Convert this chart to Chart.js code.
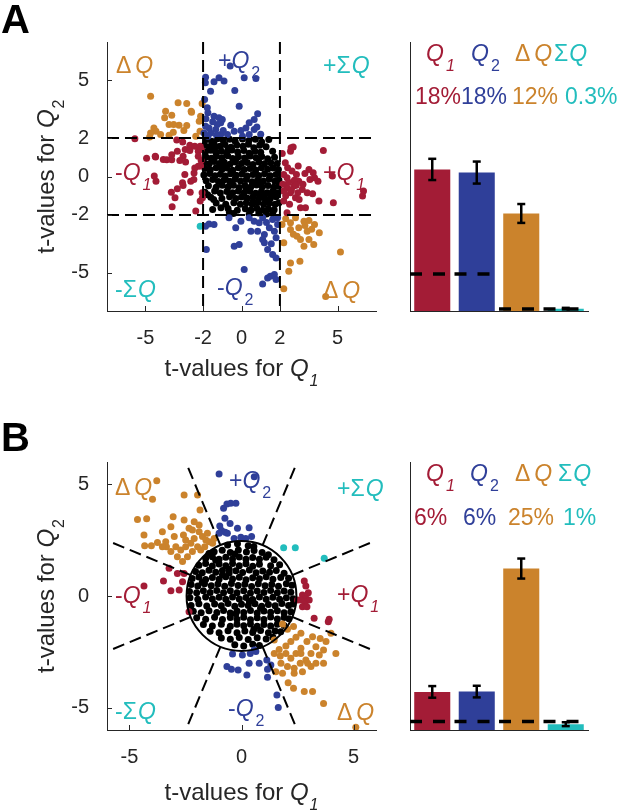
<!DOCTYPE html>
<html>
<head>
<meta charset="utf-8">
<title>t-values for Q1 and Q2</title>
<script src="https://cdn.jsdelivr.net/npm/chart.js@4.4.1/dist/chart.umd.min.js"></script>
<style>
  html, body { margin: 0; padding: 0; background: #fff; }
  #page { position: relative; width: 617px; height: 810px; overflow: hidden; }
  #page canvas { position: absolute; }
</style>
</head>
<body>
<div id="page">
  <canvas id="scatterA" width="400" height="400" style="left:0px;top:0px"></canvas>
  <canvas id="barsA" width="217" height="400" style="left:400px;top:0px"></canvas>
  <canvas id="scatterB" width="400" height="410" style="left:0px;top:400px"></canvas>
  <canvas id="barsB" width="217" height="410" style="left:400px;top:400px"></canvas>
</div>
<script>
//---- data: [t for Q1, t for Q2] ----

// panel A, square criterion |t| > 2
var aNone = [
  [-1.82,1.93],[-1.55,1.84],[-1.25,1.96],[-0.95,1.87],[-0.62,1.94],[-0.33,1.83],[0.05,1.95],[0.38,1.86],[0.72,1.94],[1.05,1.8],[1.42,1.92],
  [-1.93,1.62],[-1.7,1.55],[-1.42,1.68],[-1.12,1.58],[-0.86,1.66],[-0.55,1.52],[-0.24,1.64],[0.08,1.57],[0.36,1.68],[0.64,1.5],[0.95,1.62],[1.28,1.55],
  [-1.88,1.28],[-1.6,1.36],[-1.33,1.24],[-1.05,1.33],[-0.78,1.22],[-0.5,1.38],[-0.2,1.27],[0.12,1.35],[0.4,1.21],[0.7,1.31],[1.0,1.26],[1.62,1.32],
  [-1.85,1.02],[-1.57,0.95],[-1.3,1.06],[-1.02,0.97],[-0.72,1.08],[-0.46,0.94],[-0.16,1.03],[0.16,0.96],[0.46,1.07],[0.76,0.98],[1.05,1.04],[1.36,0.92],[1.72,1.0],
  [-1.95,0.72],[-1.68,0.66],[-1.42,0.78],[-1.15,0.68],[-0.9,0.74],[-0.6,0.64],[-0.32,0.76],[0.0,0.68],[0.3,0.73],[0.6,0.62],[0.9,0.76],[1.2,0.66],[1.52,0.72],[1.86,0.68],
  [-1.9,0.42],[-1.62,0.35],[-1.32,0.46],[-1.02,0.37],[-0.76,0.44],[-0.46,0.33],[-0.16,0.45],[0.14,0.36],[0.44,0.42],[0.74,0.34],[1.04,0.46],[1.36,0.38],[1.64,0.44],[1.92,0.36],
  [-1.96,0.08],[-1.66,0.15],[-1.38,0.04],[-1.1,0.12],[-0.84,0.02],[-0.56,0.14],[-0.28,0.06],[0.02,0.13],[0.3,0.03],[0.6,0.11],[0.9,0.05],[1.2,0.14],[1.5,0.04],[1.8,0.1],
  [-1.84,-0.22],[-1.5,-0.15],[-1.2,-0.26],[-0.9,-0.17],[-0.62,-0.25],[-0.34,-0.14],[-0.05,-0.24],[0.25,-0.16],[0.55,-0.27],[0.84,-0.18],[1.14,-0.23],[1.44,-0.13],[1.74,-0.25],[1.95,-0.18],
  [-1.72,-0.48],[-1.32,-0.56],[-1.0,-0.45],[-0.7,-0.54],[-0.42,-0.46],[-0.12,-0.57],[0.18,-0.47],[0.48,-0.55],[0.78,-0.44],[1.08,-0.53],[1.38,-0.47],[1.68,-0.56],[1.94,-0.5],
  [-1.9,-0.82],[-1.4,-0.76],[-1.1,-0.86],[-0.76,-0.78],[-0.46,-0.85],[-0.16,-0.75],[0.14,-0.84],[0.44,-0.77],[0.74,-0.87],[1.04,-0.78],[1.34,-0.84],[1.64,-0.76],[1.9,-0.85],
  [-1.6,-1.08],[-1.02,-1.14],[-0.62,-1.06],[-0.3,-1.15],[0.0,-1.07],[0.3,-1.13],[0.6,-1.05],[0.9,-1.16],[1.2,-1.08],[1.5,-1.14],[1.8,-1.06],
  [-1.32,-1.38],[-0.82,-1.44],[-0.4,-1.36],[-0.06,-1.45],[0.25,-1.37],[0.55,-1.43],[0.85,-1.35],[1.15,-1.45],[1.45,-1.38],[1.75,-1.44],[1.95,-1.36],
  [-1.5,-1.72],[-0.7,-1.66],[-0.22,-1.75],[0.2,-1.68],[0.5,-1.74],[0.8,-1.65],[1.1,-1.76],[1.4,-1.68],[1.7,-1.73],
  [-0.42,-1.93],[0.4,-1.96],[0.9,-1.9],[1.3,-1.95],[1.62,-1.92],
  [-1.4,1.45],[-0.7,1.4],[-1.0,0.55],[-0.3,0.9],[0.25,-0.65],[0.95,-0.95],[1.25,-1.25],[0.6,-1.3],[-0.55,0.25],[0.65,-0.35],[1.55,-0.9],[1.0,-0.35],
  [-1.07,-1.63],[-0.63,-1.88],[-1.76,-0.95],[-1.45,-1.2]
];
var aQ1 = [
  [-5.55,1.96],[-4.94,0.95],[-4.47,1.02],[-4.07,0.88],[-3.89,0.87],[-3.63,0.87],[-3.63,1.13],[-3.34,1.32],[-3.37,1.9],[-3.06,1.8],
  [-2.93,1.41],[-2.69,1.63],[-2.69,1.35],[-2.43,1.58],[-2.25,1.32],[-2.15,1.58],[-2.1,1.41],[-2.25,1.05],[-2.1,0.83],[-2.25,0.53],
  [-2.43,0.44],[-2.47,0.18],[-4.54,0.02],[-4.45,-0.25],[-2.95,0.1],[-2.64,-0.25],[-3.07,-0.33],[-3.34,-0.64],[-3.65,-0.82],[-3.46,-1.11],
  [-2.67,-0.82],[-3.61,-1.58],[-2.38,-1.8],[-2.03,-1.11],[-2.05,-0.85],[-2.15,-1.28],[-4.49,1.06],[-3.04,1.06],[-3.21,0.83],[-2.91,0.75],
  [-2.48,-0.16],[-2.13,0.54],[-3.04,-0.47],
  [2.69,1.53],[2.55,1.32],[4.26,1.35],[2.28,0.71],[2.63,0.28],[2.86,0.1],[3.51,0.36],[3.73,0.19],[3.98,-0.25],[3.56,-0.16],
  [2.98,-0.25],[3.16,-0.68],[3.42,-0.85],[4.03,-1.28],[4.78,-1.37],[6.3,-1.02],[6.35,-0.76],[4.73,0.02],[2.37,-0.59],[2.55,-0.85],
  [2.81,-1.11],[3.07,-1.63],[2.37,-1.89],[2.2,-1.28],[2.72,-0.5],[2.93,-0.85],[2.37,-0.06],[2.2,0.1],[3.33,-1.63],[3.8,-0.06],
  [2.58,1.49],[2.45,-0.3],[2.6,-0.7],[2.75,-0.2],[2.3,-1.0],[2.5,-1.45],[3.0,-1.2],[2.85,-0.45],[2.15,-0.4],[2.2,-0.75],
  [3.2,-0.4],[2.95,0.55],[3.7,-0.9],[3.3,0.15],[2.4,0.45],[2.12,1.2]
];
var aQ2 = [
  [-1.87,5.17],[-1.88,4.88],[-1.43,4.93],[-1.17,5.14],[-0.91,4.97],[-0.59,5.75],[0.14,5.14],[0.75,5.1],[-0.35,4.48],[-1.61,4.44],
  [-0.12,3.66],[-1.78,3.58],[-1.75,3.32],[-1.43,3.14],[-1.17,3.06],[-1.0,2.97],[0.84,3.26],[0.66,2.97],[0.4,2.8],[0.23,2.53],
  [0.66,2.45],[0.8,2.57],[-0.03,2.4],[-0.38,2.36],[-0.73,2.19],[-1.08,2.19],[-1.34,2.45],[-1.69,2.53],[-1.87,2.62],[-1.61,2.27],
  [-1.95,2.27],[-1.08,2.8],[-1.26,2.71],[-0.56,2.67],[0.4,2.19],[0.05,2.1],[-1.92,4.01],[-1.5,2.85],[-1.85,3.0],[-0.95,2.4],
  [1.0,2.2],[-1.3,2.15],[-1.75,2.1],
  [-1.87,-2.59],[-1.69,-2.47],[-1.43,-2.5],[-1.83,-3.8],[-0.65,-2.15],[-0.3,-2.67],[-0.38,-3.63],[-0.12,-3.54],[0.14,-4.84],[0.66,-2.33],
  [0.92,-2.41],[1.1,-2.15],[0.84,-2.85],[1.19,-3.02],[1.1,-3.28],[1.19,-3.45],[1.36,-3.8],[1.62,-4.06],[1.8,-4.24],[1.45,-2.67],
  [1.71,-2.85],[1.8,-3.19],[1.62,-2.24],[1.88,-2.15],[1.36,-5.28],[1.5,-5.19],[1.71,-5.1],[1.1,-5.59],[1.8,-5.36],[0.4,-2.15],
  [-0.03,-2.33],[1.88,-2.5],[0.49,-2.85],[1.3,-2.4],[1.55,-3.5]
];
var aDQ = [
  [-4.73,4.18],[-3.95,3.4],[-3.63,3.19],[-2.85,3.8],[-2.6,3.35],[-2.05,3.8],[-2.13,3.14],[-2.2,2.88],[-3.77,2.71],[-3.25,2.67],
  [-2.85,2.66],[-4.56,2.53],[-4.45,2.36],[-4.73,2.27],[-4.21,2.18],[-3.77,2.15],[-4.78,2.05],[-2.38,2.1],[-3.3,3.84],[-4.0,3.06],
  [-2.16,2.36],[-3.0,2.4],[-3.53,2.71],[-3.55,2.3],[-2.62,3.39],
  [2.11,-2.5],[2.55,-2.41],[2.81,-2.15],[3.25,-2.33],[3.51,-2.29],[3.8,-2.5],[2.98,-2.67],[2.55,-2.76],[3.42,-2.85],[4.05,-2.93],
  [3.07,-3.28],[3.51,-3.28],[3.76,-3.54],[3.25,-3.63],[2.2,-3.45],[5.15,-3.93],[2.55,-4.5],[3.04,-4.41],[2.46,-4.93],[2.2,-5.84],
  [4.38,-6.24],[2.89,-3.11],[3.3,-2.55],[2.3,-2.2],[3.65,-2.75],[2.7,-3.0]
];
var aSQ = [[-2.15,-2.59]];

// panel B, circular criterion
var bNone = [
  [-0.62,2.28],[-0.18,2.34],[0.3,2.25],[0.55,2.22],
  [-1.22,1.98],[-0.86,2.05],[-0.5,1.95],[-0.14,2.06],[0.22,1.97],[0.56,2.04],[0.92,1.95],[1.2,1.85],
  [-1.6,1.68],[-1.3,1.76],[-1.0,1.64],[-0.7,1.74],[-0.4,1.66],[-0.1,1.75],[0.2,1.64],[0.5,1.72],[0.8,1.65],[1.1,1.74],[1.45,1.62],
  [-1.9,1.38],[-1.6,1.45],[-1.3,1.34],[-1.0,1.43],[-0.7,1.35],[-0.4,1.46],[-0.1,1.36],[0.2,1.44],[0.5,1.33],[0.8,1.42],[1.3,1.36],[1.7,1.4],
  [-2.05,1.1],[-1.75,1.04],[-1.45,1.15],[-1.15,1.06],[-0.85,1.14],[-0.55,1.03],[-0.25,1.13],[0.05,1.05],[0.35,1.16],[0.65,1.04],[0.95,1.12],[1.25,1.06],[1.55,1.14],[1.9,1.02],
  [-2.2,0.78],[-1.9,0.85],[-1.6,0.74],[-1.3,0.83],[-1.0,0.75],[-0.7,0.86],[-0.4,0.76],[-0.1,0.84],[0.2,0.73],[0.5,0.82],[0.8,0.77],[1.1,0.86],[1.4,0.75],[1.75,0.83],[2.1,0.8],
  [-2.25,0.52],[-1.95,0.45],[-1.65,0.55],[-1.35,0.46],[-1.05,0.54],[-0.75,0.44],[-0.45,0.56],[-0.15,0.47],[0.15,0.53],[0.45,0.43],[0.75,0.55],[1.05,0.46],[1.35,0.52],[1.65,0.44],[2.0,0.55],[2.25,0.48],
  [-2.32,0.2],[-2.0,0.15],[-1.7,0.24],[-1.4,0.16],[-1.1,0.25],[-0.8,0.14],[-0.5,0.23],[-0.2,0.15],[0.1,0.24],[0.4,0.13],[0.7,0.22],[1.0,0.16],[1.3,0.25],[1.6,0.14],[1.9,0.22],[2.2,0.17],
  [-2.3,-0.08],[-1.95,-0.14],[-1.6,-0.05],[-1.3,-0.13],[-1.0,-0.06],[-0.7,-0.15],[-0.4,-0.04],[-0.1,-0.13],[0.2,-0.07],[0.5,-0.16],[0.8,-0.05],[1.1,-0.14],[1.4,-0.06],[1.7,-0.15],[2.0,-0.08],[2.3,-0.12],
  [-2.25,-0.42],[-1.9,-0.35],[-1.55,-0.45],[-1.2,-0.36],[-0.9,-0.44],[-0.6,-0.34],[-0.3,-0.46],[0.0,-0.37],[0.3,-0.43],[0.6,-0.35],[0.9,-0.46],[1.2,-0.38],[1.5,-0.44],[1.8,-0.34],[2.1,-0.42],[2.3,-0.36],
  [-2.15,-0.68],[-1.8,-0.75],[-1.45,-0.66],[-1.1,-0.74],[-0.8,-0.65],[-0.5,-0.76],[-0.2,-0.67],[0.1,-0.74],[0.4,-0.65],[0.7,-0.76],[1.0,-0.67],[1.3,-0.73],[1.6,-0.66],[1.9,-0.75],[2.2,-0.7],
  [-2.0,-0.97],[-1.6,-1.04],[-1.2,-0.95],[-0.85,-1.05],[-0.5,-0.96],[-0.2,-1.04],[0.1,-0.95],[0.4,-1.06],[0.7,-0.97],[1.0,-1.05],[1.3,-0.94],[1.6,-1.03],[1.9,-0.96],[2.12,-1.02],
  [-1.7,-1.28],[-1.3,-1.34],[-0.9,-1.26],[-0.5,-1.35],[-0.2,-1.27],[0.1,-1.33],[0.4,-1.25],[0.7,-1.36],[1.0,-1.28],[1.3,-1.34],[1.6,-1.26],[1.9,-1.32],
  [-1.4,-1.58],[-1.0,-1.64],[-0.6,-1.56],[-0.2,-1.65],[0.15,-1.57],[0.5,-1.63],[0.85,-1.55],[1.2,-1.64],[1.5,-1.57],[1.75,-1.6],
  [-0.9,-1.88],[-0.5,-1.94],[-0.1,-1.86],[0.3,-1.95],[0.7,-1.87],[1.1,-1.93],[1.4,-1.85],
  [-0.3,-2.18],[0.1,-2.24],[0.5,-2.16],[0.8,-2.22],
  [-1.45,1.9],[-0.3,1.88],[-1.15,1.6],[-0.55,1.2],[-1.75,0.62],[-0.85,0.95],[0.35,-0.25],[0.85,-0.55],[-0.25,-0.8],[0.55,-1.5]
];
var bQ1 = [
  [-4.35,0.45],[-3.48,0.67],[-3.15,0.24],[-2.78,0.27],[-2.86,1.01],[-2.63,0.64],[-3.23,1.24],[-2.56,1.01],[-2.34,-0.7],
  [2.8,0.67],[2.87,0.45],[2.98,0.15],[2.72,0.04],[2.87,-0.1],[3.02,-0.18],[2.65,-0.18],[2.83,-0.36],[2.72,-0.48],[2.92,-0.48],
  [3.24,-1.0],[3.87,-1.15],[3.91,-1.04],[2.5,-0.18]
];
var bQ2 = [
  [-1.0,5.46],[0.57,5.34],[-0.8,3.93],[-0.65,4.12],[-0.48,4.15],[-0.25,4.15],[-0.74,3.48],[-0.51,3.25],[-0.97,3.13],[-0.89,2.93],
  [-0.73,2.85],[-0.63,2.81],[-0.18,3.03],[0.34,3.06],[0.45,2.66],[-0.33,2.58],[-0.03,2.63],[-1.0,2.81],[0.19,2.58],
  [-0.4,-2.6],[0.04,-2.64],[0.39,-2.57],[0.64,-2.49],[-0.65,-3.16],[-0.45,-3.28],[-0.15,-3.31],[0.24,-3.54],[0.34,-3.01],[0.79,-3.01],
  [1.13,-2.87],[1.16,-3.28],[1.16,-3.64],[1.31,-3.09],[1.58,-4.43],[1.64,-4.99],[0.57,-2.42]
];
var bDQ = [
  [-3.97,4.33],[-3.78,5.16],[-4.64,3.43],[-4.23,3.46],[-4.35,2.73],[-4.32,2.25],[-4.02,2.25],[-3.75,2.39],[-3.53,2.88],[-3.38,2.43],
  [-3.35,2.21],[-3.15,3.1],[-3.05,3.55],[-3.0,2.66],[-3.15,1.99],[-2.86,1.76],[-2.71,2.06],[-2.59,2.73],[-2.49,2.51],[-2.56,4.52],
  [-2.11,3.33],[-2.19,2.96],[-1.96,4.52],[-1.85,3.85],[-2.49,2.21],[-2.26,2.36],[-2.11,2.58],[-1.89,2.88],[-1.74,2.66],[-1.59,2.51],
  [-1.44,2.43],[-1.29,2.36],[-1.22,2.58],[-2.41,1.76],[-2.63,1.54],[-2.19,1.99],[-1.96,2.21],[-1.82,2.06],[-1.64,2.21],[-2.56,3.4],
  [-2.34,3.03],[-1.89,3.18],[-1.52,2.81],[-2.93,2.21],[-3.53,2.21],
  [1.83,-1.25],[2.05,-1.49],[2.32,-1.37],[2.65,-1.67],[2.43,-1.85],[2.2,-2.04],[1.98,-2.24],[1.68,-2.39],[1.46,-2.57],[1.73,-2.69],
  [1.98,-2.57],[2.2,-2.79],[2.43,-2.57],[2.65,-2.34],[2.92,-2.04],[3.17,-1.82],[3.51,-1.9],[3.77,-2.04],[3.99,-1.67],[3.32,-2.27],
  [3.66,-2.42],[4.21,-2.57],[3.1,-2.57],[2.87,-2.87],[2.62,-3.01],[2.35,-3.24],[2.05,-3.16],[1.76,-3.01],[1.53,-3.39],[1.83,-3.46],
  [2.35,-3.46],[2.72,-3.39],[3.1,-3.16],[3.32,-3.01],[3.66,-3.01],[2.95,-3.01],[2.08,-3.88],[2.32,-4.13],[2.8,-4.28],[3.17,-4.28],
  [3.66,-4.81],[5.1,-5.88],[1.46,-1.97],[2.65,-2.57],[3.47,-2.64]
];
var bSQ = [[1.88,2.16],[2.4,2.16],[3.69,1.69]];

// axis ticks and limits
var ticksA = [-5, -2, 0, 2, 5];
var ticksB = [-5, 0, 5];
var limA = 7, limB = 6;
var cutsA = [-2, 2];                                 // |t| > 2 criterion
var radiusB = 2.45;                                  // circle criterion
var rayEndB = 6.3;
var sectorAnglesB = [22.5, 67.5, 112.5, 157.5, 202.5, 247.5, 292.5, 337.5];

// bars: percent of units per category
var barCats = ['Q1', 'Q2', 'ΔQ', 'ΣQ'];
var barsA = [18.0, 17.6, 12.4, 0.3];
var errA = [1.35, 1.4, 1.2, 0.1];
var chanceA = [4.7, 4.7, 0.25, 0.25];
var pctA = ['18%', '18%', '12%', '0.3%'];
var barsB = [5.9, 5.95, 25.0, 0.9];
var errB = [0.9, 0.9, 1.55, 0.3];
var chanceB = [1.3, 1.3, 1.3, 1.3];
var pctB = ['6%', '6%', '25%', '1%'];

//---- styles ----
var FONT = '"Liberation Sans", Arial, Helvetica, sans-serif';
var colQ1 = '#A31C36', colQ2 = '#2F3F99', colDQ = '#CB832C', colSQ = '#22BDBD', colNone = '#000000';
var axisCol = '#262626';
var barColors = [colQ1, colQ2, colDQ, colSQ];
Chart.defaults.font.family = FONT;

// rich text pieces: [text, style, gapAfter]; style n=upright, i=italic, s=italic sub, S=upright sub
var titleX = [['t-values for ', 'n'], ['Q', 'i', 1], ['1', 's']];
var titleY = [['t-values for ', 'n'], ['Q', 'i', 1], ['2', 'S']];
var lblQ1 = [['Q', 'i', 2], ['1', 's']];
var lblQ2 = [['Q', 'i', 2], ['2', 'S']];
var lblDQ = [['Δ', 'n', 4], ['Q', 'i']];
var lblSQ = [['Σ', 'n', 1], ['Q', 'i']];

function line(ctx, x1, y1, x2, y2) {
  ctx.beginPath(); ctx.moveTo(x1, y1); ctx.lineTo(x2, y2); ctx.stroke();
}

function setFont(ctx, st, size) {
  var sub = (st === 's' || st === 'S');
  var fs = sub ? Math.round(size * 0.68) : size;
  ctx.font = ((st === 'i' || st === 's') ? 'italic ' : '') + fs + 'px ' + FONT;
  return sub;
}

function richWidth(ctx, parts, size) {
  var w = 0;
  ctx.save();
  parts.forEach(function (p) { setFont(ctx, p[1], size); w += ctx.measureText(p[0]).width + (p[2] || 0); });
  ctx.restore();
  return w;
}

function drawRich(ctx, parts, x, y, size, color) {
  ctx.save();
  ctx.fillStyle = color; ctx.textAlign = 'left'; ctx.textBaseline = 'alphabetic';
  var cx = x;
  parts.forEach(function (p) {
    var sub = setFont(ctx, p[1], size);
    ctx.fillText(p[0], cx, y + (sub ? size * 0.42 : 0));
    cx += ctx.measureText(p[0]).width + (p[2] || 0);
  });
  ctx.restore();
}

function pre(sign, parts) { return [[sign, 'n']].concat(parts); }

//---- scatter panels ----
function axisOpts(lim, ticks, dir, size) {
  return {
    type: 'linear', min: -lim, max: lim,
    afterBuildTicks: function (s) { s.ticks = ticks.map(function (v) { return { value: v }; }); },
    afterFit: function (s) { if (dir === 'x') s.height = size; else s.width = size; },
    grid: { display: false },
    border: { display: true, color: axisCol, width: 1 },
    ticks: {
      color: axisCol, font: { family: FONT, size: 20 }, padding: dir === 'x' ? 7 : 10,
      maxRotation: 0, autoSkip: false,
      callback: function (v) { return String(v); }
    }
  };
}

function scatterDeco(o) {
  return {
    id: 'scatterDeco',
    afterDatasetsDraw: function (chart) {
      var ctx = chart.ctx;
      ctx.save();
      ctx.strokeStyle = '#000';
      o.guides(ctx, chart.chartArea, chart.scales.x, chart.scales.y);
      ctx.restore();
    },
    afterDraw: function (chart) {
      var ctx = chart.ctx, a = chart.chartArea, xs = chart.scales.x, ys = chart.scales.y;
      ctx.save();
      ctx.strokeStyle = axisCol; ctx.lineWidth = 1; ctx.setLineDash([]);
      o.ticks.forEach(function (v) {
        var px = Math.round(xs.getPixelForValue(v)) + 0.5, py = Math.round(ys.getPixelForValue(v)) + 0.5;
        line(ctx, px, a.bottom, px, a.bottom - 5);
        line(ctx, a.left, py, a.left + 5, py);
      });
      var w = richWidth(ctx, titleX, 24);
      drawRich(ctx, titleX, (a.left + a.right) / 2 - w / 2, o.titleXBase, 24, axisCol);
      ctx.translate(53.5, (a.top + a.bottom) / 2);
      ctx.rotate(-Math.PI / 2);
      w = richWidth(ctx, titleY, 24);
      drawRich(ctx, titleY, -w / 2, 0, 24, axisCol);
      ctx.restore();
      o.notes.forEach(function (n) { drawRich(ctx, n[3], n[0], n[1], 23, n[2]); });
      ctx.save();
      ctx.fillStyle = '#000'; ctx.font = 'bold 40px ' + FONT; ctx.textBaseline = 'alphabetic';
      ctx.fillText(o.letter, 1, o.letterBase);
      ctx.restore();
    }
  };
}

function scatterChart(id, groups, lim, ticks, area, deco) {
  var cv = document.getElementById(id);
  return new Chart(cv, {
    type: 'scatter',
    data: {
      datasets: groups.map(function (g) {
        return {
          data: g[0].map(function (p) { return { x: p[0], y: p[1] }; }),
          backgroundColor: g[1], borderWidth: 0, pointRadius: 3.5, pointHoverRadius: 3.5
        };
      })
    },
    options: {
      responsive: false, animation: false, events: [],
      layout: { padding: { left: 0, top: area.top, right: cv.width - area.right, bottom: 0 } },
      plugins: { legend: { display: false }, tooltip: { enabled: false } },
      scales: {
        x: axisOpts(lim, ticks, 'x', cv.height - area.bottom),
        y: axisOpts(lim, ticks, 'y', area.left)
      }
    },
    plugins: [deco]
  });
}

scatterChart('scatterA',
  [[aQ1, colQ1], [aQ2, colQ2], [aDQ, colDQ], [aSQ, colSQ], [aNone, colNone]],
  limA, ticksA, { left: 107, right: 376, top: 42, bottom: 311 },
  scatterDeco({
    ticks: ticksA, titleXBase: 376, letter: 'A', letterBase: 33,
    guides: function (ctx, a, xs, ys) {
      ctx.lineWidth = 2; ctx.setLineDash([12, 6]);
      cutsA.forEach(function (c) {
        var px = xs.getPixelForValue(c), py = ys.getPixelForValue(c);
        line(ctx, px, a.top, px, a.bottom);
        line(ctx, a.left, py, a.right, py);
      });
    },
    notes: [
      [116, 73, colDQ, lblDQ], [218, 68, colQ2, pre('+', lblQ2)], [323, 73, colSQ, pre('+', lblSQ)],
      [115, 180, colQ1, pre('-', lblQ1)], [323, 180, colQ1, pre('+', lblQ1)],
      [115, 297, colSQ, pre('-', lblSQ)], [217, 295, colQ2, pre('-', lblQ2)], [323, 298, colDQ, lblDQ]
    ]
  }));

scatterChart('scatterB',
  [[bQ1, colQ1], [bQ2, colQ2], [bDQ, colDQ], [bSQ, colSQ], [bNone, colNone]],
  limB, ticksB, { left: 107, right: 376, top: 62, bottom: 330 },
  scatterDeco({
    ticks: ticksB, titleXBase: 400, letter: 'B', letterBase: 51,
    guides: function (ctx, a, xs, ys) {
      var cx = xs.getPixelForValue(0), cy = ys.getPixelForValue(0);
      ctx.lineWidth = 2; ctx.setLineDash([12, 6]);
      sectorAnglesB.forEach(function (deg) {
        var t = deg * Math.PI / 180, c = Math.cos(t), s = Math.sin(t);
        line(ctx, xs.getPixelForValue(radiusB * c), ys.getPixelForValue(radiusB * s),
                  xs.getPixelForValue(rayEndB * c), ys.getPixelForValue(rayEndB * s));
      });
      ctx.setLineDash([]);
      ctx.beginPath();
      ctx.arc(cx, cy, xs.getPixelForValue(radiusB) - cx, 0, 2 * Math.PI);
      ctx.stroke();
    },
    notes: [
      [115, 95, colDQ, lblDQ], [229, 88, colQ2, pre('+', lblQ2)], [337, 96, colSQ, pre('+', lblSQ)],
      [115, 203, colQ1, pre('-', lblQ1)], [337, 202, colQ1, pre('+', lblQ1)],
      [115, 319, colSQ, pre('-', lblSQ)], [228, 316, colQ2, pre('-', lblQ2)], [337, 320, colDQ, lblDQ]
    ]
  }));

//---- bar panels ----
function barDeco(vals, errs, chance, texts) {
  return {
    id: 'barDeco',
    afterDatasetsDraw: function (chart) {
      var ctx = chart.ctx, ys = chart.scales.y, meta = chart.getDatasetMeta(0);
      var step = chart.scales.x.width / vals.length;
      ctx.save();
      ctx.strokeStyle = '#000';
      meta.data.forEach(function (el, i) {
        var x = el.x;
        ctx.lineWidth = 3.5; ctx.setLineDash([12, 11]);
        var yc = ys.getPixelForValue(chance[i]);
        line(ctx, x - step / 2, yc, x + step / 2, yc);
        ctx.setLineDash([]); ctx.lineWidth = 2.5;
        var y1 = ys.getPixelForValue(vals[i] + errs[i]), y2 = ys.getPixelForValue(vals[i] - errs[i]);
        line(ctx, x, y1, x, y2);
        line(ctx, x - 4, y1, x + 4, y1);
        line(ctx, x - 4, y2, x + 4, y2);
      });
      ctx.restore();
    },
    afterDraw: function (chart) {
      texts.forEach(function (t) { drawRich(chart.ctx, t[3], t[0], t[1], 23, t[2]); });
    }
  };
}

function barChart(id, vals, errs, chance, ymax, area, texts) {
  var cv = document.getElementById(id);
  return new Chart(cv, {
    type: 'bar',
    data: {
      labels: barCats,
      datasets: [{ data: vals, backgroundColor: barColors, borderWidth: 0, barPercentage: 0.81, categoryPercentage: 1 }]
    },
    options: {
      responsive: false, animation: false, events: [],
      layout: { padding: { left: 0, top: area.top, right: cv.width - area.right, bottom: 0 } },
      plugins: { legend: { display: false }, tooltip: { enabled: false } },
      scales: {
        x: {
          ticks: { display: false }, grid: { display: false },
          border: { display: true, color: axisCol, width: 1 },
          afterFit: function (s) { s.height = cv.height - area.bottom; }
        },
        y: {
          min: 0, max: ymax,
          ticks: { display: false }, grid: { display: false },
          border: { display: true, color: axisCol, width: 1 },
          afterFit: function (s) { s.width = area.left; }
        }
      }
    },
    plugins: [barDeco(vals, errs, chance, texts)]
  });
}

function pctParts(s) { return [[s, 'n']]; }

barChart('barsA', barsA, errA, chanceA, 34.2, { left: 10, right: 188, top: 42, bottom: 311 }, [
  [26, 61, colQ1, lblQ1], [71, 61, colQ2, lblQ2], [115, 61, colDQ, lblDQ], [154, 61, colSQ, lblSQ],
  [15, 104, colQ1, pctParts(pctA[0])], [61, 104, colQ2, pctParts(pctA[1])],
  [112, 104, colDQ, pctParts(pctA[2])], [165, 104, colSQ, pctParts(pctA[3])]
]);

barChart('barsB', barsB, errB, chanceB, 41.5, { left: 10, right: 188, top: 62, bottom: 330 }, [
  [26, 81, colQ1, lblQ1], [70, 81, colQ2, lblQ2], [115, 81, colDQ, lblDQ], [158, 81, colSQ, lblSQ],
  [14, 125, colQ1, pctParts(pctB[0])], [63, 125, colQ2, pctParts(pctB[1])],
  [108, 125, colDQ, pctParts(pctB[2])], [163, 125, colSQ, pctParts(pctB[3])]
]);
</script>
</body>
</html>
